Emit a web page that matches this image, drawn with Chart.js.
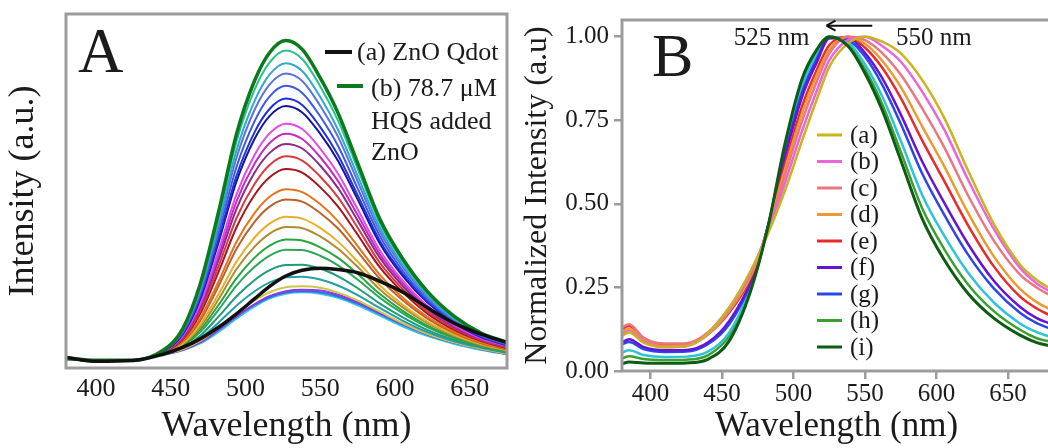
<!DOCTYPE html>
<html>
<head>
<meta charset="utf-8">
<title>ZnO Qdot emission with HQS</title>
<style>
  html, body { margin: 0; padding: 0; background: #fff; overflow: hidden; }
  body { width: 1048px; height: 448px; position: relative; }
  .panel { position: absolute; top: 0; height: 448px; }
  #panelA { left: 0; width: 520px; }
  #panelB { left: 520px; width: 540px; }
</style>
<script src="https://cdn.jsdelivr.net/npm/chart.js"></script>
</head>
<body>
<div class="panel" id="panelA"><canvas id="chartA" width="520" height="448"></canvas></div>
<div class="panel" id="panelB"><canvas id="chartB" width="540" height="448"></canvas></div>
<script>
const SERIF = "'Liberation Serif', 'Times New Roman', serif";
const INK = '#1b1b1b';
const FRAME = '#9c9c9c';

const xTicks = [400, 450, 500, 550, 600, 650];
const yTicksB = [0, 0.25, 0.5, 0.75, 1.0];

// Panel A: raw emission spectra (a.u.)
const wavelengthA = [380, 400, 425, 445, 458, 470, 482, 494, 506, 516, 527, 538, 550, 562, 575, 590, 605, 622, 640, 658, 675];
const qdotA = [3.0, 1.9, 2.1, 3.9, 5.8, 8.3, 11.5, 15.3, 19.5, 23.0, 26.0, 27.6, 28.2, 27.8, 26.9, 24.5, 21.5, 17.0, 12.6, 9.5, 7.2];
const hqs01 = [2.8, 2.2, 2.2, 5.0, 11.0, 24.0, 44.0, 66.0, 81.0, 89.0, 92.5, 90.0, 82.0, 72.0, 58.0, 42.0, 31.0, 21.5, 14.5, 9.8, 7.3];
const hqs02 = [2.8, 2.2, 2.2, 5.0, 10.8, 23.3, 42.7, 63.9, 78.5, 86.2, 89.7, 87.3, 79.6, 69.9, 56.4, 40.9, 30.3, 21.0, 14.2, 9.6, 7.2];
const hqs03 = [2.7, 2.1, 2.2, 4.9, 10.5, 22.5, 41.0, 61.4, 75.3, 82.8, 86.1, 83.9, 76.6, 67.3, 54.4, 39.6, 29.3, 20.4, 13.8, 9.4, 7.0];
const hqs04 = [2.7, 2.1, 2.2, 4.8, 10.3, 21.8, 39.7, 59.3, 72.8, 80.0, 83.2, 81.1, 74.1, 65.3, 52.8, 38.5, 28.6, 19.9, 13.5, 9.2, 6.9];
const hqs05 = [2.7, 2.1, 2.2, 4.8, 10.0, 21.0, 38.0, 56.7, 69.6, 76.6, 79.7, 77.7, 71.1, 62.7, 50.8, 37.2, 27.6, 19.3, 13.2, 9.0, 6.7];
const hqs06 = [2.7, 2.1, 2.2, 4.7, 9.7, 20.2, 36.4, 54.2, 66.5, 73.1, 76.1, 74.3, 68.1, 60.1, 48.9, 35.9, 26.7, 18.7, 12.8, 8.8, 6.5];
const hqs07 = [2.7, 2.1, 2.2, 4.7, 9.5, 19.7, 35.4, 52.6, 64.6, 71.1, 74.0, 72.2, 66.2, 58.5, 47.7, 35.1, 26.1, 18.4, 12.6, 8.7, 6.4];
const hqs08 = [2.7, 2.1, 2.2, 4.6, 9.1, 18.5, 33.0, 49.0, 60.1, 66.2, 69.0, 67.5, 62.0, 54.9, 44.9, 33.2, 24.8, 17.5, 12.1, 8.4, 6.2];
const hqs09 = [2.7, 2.1, 2.2, 4.6, 8.9, 17.9, 31.7, 47.0, 57.6, 63.5, 66.2, 64.7, 59.6, 52.8, 43.3, 32.1, 24.1, 17.0, 11.8, 8.2, 6.1];
const hqs10 = [2.7, 2.1, 2.2, 4.5, 8.6, 17.2, 30.4, 44.9, 55.1, 60.7, 63.3, 62.0, 57.2, 50.8, 41.7, 31.1, 23.3, 16.5, 11.5, 8.0, 6.0];
const hqs11 = [2.7, 2.1, 2.2, 4.5, 8.3, 16.4, 28.7, 42.3, 51.9, 57.3, 59.8, 58.6, 54.1, 48.2, 39.7, 29.7, 22.4, 15.9, 11.1, 7.8, 5.8];
const hqs12 = [2.6, 2.0, 2.2, 4.4, 8.0, 15.5, 27.1, 39.7, 48.8, 53.8, 56.2, 55.2, 51.1, 45.6, 37.7, 28.4, 21.5, 15.3, 10.7, 7.6, 5.6];
const hqs13 = [2.6, 2.0, 2.2, 4.3, 7.6, 14.2, 24.4, 35.6, 43.7, 48.3, 50.5, 49.7, 46.3, 41.4, 34.5, 26.3, 20.0, 14.4, 10.1, 7.2, 5.4];
const hqs14 = [2.6, 2.0, 2.2, 4.2, 7.4, 13.5, 23.1, 33.6, 41.2, 45.5, 47.6, 47.0, 43.8, 39.4, 32.9, 25.2, 19.2, 13.9, 9.8, 7.0, 5.2];
const hqs15 = [2.6, 2.0, 2.2, 4.2, 6.9, 12.4, 20.8, 30.0, 36.8, 40.7, 42.7, 42.2, 39.6, 35.7, 30.1, 23.3, 17.9, 13.0, 9.3, 6.7, 5.0];
const hqs16 = [2.6, 2.0, 2.2, 4.1, 6.7, 11.7, 19.4, 27.9, 34.2, 37.9, 39.8, 39.5, 37.2, 33.7, 28.6, 22.2, 17.2, 12.6, 9.0, 6.5, 4.9];
const hqs17 = [2.6, 2.0, 2.2, 4.1, 6.4, 10.9, 17.8, 25.3, 31.1, 34.5, 36.3, 36.0, 34.1, 31.1, 26.6, 20.9, 16.2, 11.9, 8.7, 6.3, 4.7];
const hqs18 = [2.6, 2.0, 2.2, 4.0, 6.2, 10.2, 16.4, 23.3, 28.5, 31.7, 33.4, 33.3, 31.7, 29.0, 25.0, 19.8, 15.5, 11.5, 8.4, 6.2, 4.6];
const hqs19 = [2.5, 2.0, 2.2, 3.9, 5.8, 9.2, 14.5, 20.2, 24.8, 27.6, 29.1, 29.2, 28.1, 25.9, 22.6, 18.2, 14.4, 10.7, 7.9, 5.9, 4.4];
const hqs20 = [2.5, 2.0, 2.2, 3.9, 5.6, 8.4, 12.8, 17.6, 21.6, 24.1, 25.6, 25.8, 25.0, 23.3, 20.6, 16.9, 13.4, 10.1, 7.5, 5.7, 4.2];
const hqs21 = [2.5, 2.0, 2.2, 3.8, 5.3, 7.7, 11.4, 15.4, 19.0, 21.4, 22.8, 23.1, 22.7, 21.3, 19.1, 15.9, 12.7, 9.6, 7.2, 5.4, 4.0];
const hqs22 = [2.5, 2.0, 2.2, 3.8, 5.1, 7.3, 10.8, 14.6, 18.0, 20.3, 21.7, 22.1, 21.9, 20.7, 18.6, 15.6, 12.5, 9.5, 7.1, 5.3, 3.9];
const hqs23 = [2.5, 2.0, 2.2, 3.8, 5.2, 7.4, 10.8, 14.5, 17.8, 20.0, 21.3, 21.7, 21.4, 20.2, 18.2, 15.3, 12.3, 9.4, 7.1, 5.4, 4.0];
const hqs24 = [2.5, 2.0, 2.2, 3.7, 5.0, 7.0, 10.2, 13.9, 17.3, 19.6, 21.0, 21.4, 21.0, 19.8, 17.7, 14.8, 11.8, 9.0, 6.8, 5.1, 3.8];
const hqsSeries = [hqs01, hqs02, hqs03, hqs04, hqs05, hqs06, hqs07, hqs08, hqs09, hqs10, hqs11, hqs12,
                   hqs13, hqs14, hqs15, hqs16, hqs17, hqs18, hqs19, hqs20, hqs21, hqs22, hqs23, hqs24];
const hqsColors = ['#0b7a1c', '#27c28c', '#2fa8d4', '#5a72e4', '#3d58e6', '#2030de', '#14149c', '#e64ae6',
                   '#c22cc2', '#8c2a88', '#d83a40', '#a6141c', '#e8721c', '#b8622c', '#e6b02a', '#ae8a30',
                   '#24a63c', '#2aa85a', '#1e9c7a', '#22a0a6', '#d2c64a', '#8a3cdc', '#3a6ae6', '#2ec6e8'];

// Panel B: normalized spectra
const wavelengthB = [380, 385, 395, 410, 425, 440, 455, 470, 482, 494, 506, 516, 525, 538, 550, 562, 575, 590, 605, 622, 640, 658, 670, 680];
const normA = [0.105, 0.115, 0.085, 0.071, 0.074, 0.112, 0.19, 0.30, 0.41, 0.54, 0.69, 0.81, 0.91, 0.98, 1.0, 0.985, 0.95, 0.87, 0.76, 0.60, 0.44, 0.32, 0.272, 0.245];
const normB = [0.110, 0.120, 0.088, 0.072, 0.075, 0.110, 0.185, 0.296, 0.416, 0.563, 0.719, 0.836, 0.93, 0.99, 1.0, 0.972, 0.925, 0.835, 0.725, 0.572, 0.425, 0.31, 0.262, 0.236];
const normC = [0.130, 0.140, 0.100, 0.082, 0.083, 0.115, 0.19, 0.290, 0.423, 0.586, 0.749, 0.864, 0.95, 1.0, 0.99, 0.951, 0.886, 0.785, 0.672, 0.525, 0.39, 0.29, 0.25, 0.225];
const normD = [0.118, 0.127, 0.092, 0.075, 0.077, 0.108, 0.18, 0.284, 0.426, 0.604, 0.773, 0.884, 0.962, 1.0, 0.979, 0.928, 0.849, 0.731, 0.615, 0.473, 0.343, 0.247, 0.206, 0.183];
const normE = [0.126, 0.135, 0.096, 0.079, 0.080, 0.110, 0.175, 0.278, 0.428, 0.618, 0.793, 0.899, 0.975, 1.0, 0.967, 0.907, 0.816, 0.689, 0.571, 0.436, 0.313, 0.224, 0.187, 0.165];
const normF = [0.086, 0.095, 0.072, 0.062, 0.063, 0.085, 0.15, 0.268, 0.431, 0.640, 0.821, 0.921, 0.995, 0.998, 0.951, 0.876, 0.767, 0.626, 0.506, 0.380, 0.270, 0.193, 0.158, 0.141];
const normG = [0.080, 0.087, 0.066, 0.057, 0.058, 0.080, 0.14, 0.263, 0.432, 0.650, 0.835, 0.932, 0.996, 0.99, 0.940, 0.856, 0.739, 0.590, 0.470, 0.348, 0.247, 0.175, 0.143, 0.126];
const normCyan = [0.055, 0.062, 0.048, 0.042, 0.043, 0.058, 0.115, 0.253, 0.431, 0.665, 0.854, 0.945, 0.997, 0.984, 0.917, 0.821, 0.688, 0.526, 0.407, 0.294, 0.205, 0.143, 0.116, 0.102];
const normH = [0.038, 0.044, 0.036, 0.033, 0.034, 0.047, 0.105, 0.245, 0.431, 0.673, 0.866, 0.955, 1.0, 0.978, 0.902, 0.798, 0.655, 0.486, 0.367, 0.259, 0.179, 0.124, 0.098, 0.087];
const normI = [0.022, 0.027, 0.024, 0.023, 0.024, 0.035, 0.09, 0.24, 0.43, 0.68, 0.875, 0.96, 1.0, 0.972, 0.89, 0.78, 0.63, 0.455, 0.335, 0.232, 0.158, 0.108, 0.085, 0.075];
const normLabels = ['(a)', '(b)', '(c)', '(d)', '(e)', '(f)', '(g)', '(h)', '(i)'];
const normSeries = [normA, normB, normC, normD, normE, normF, normG, normH, normI];
const normColors = ['#c8b41c', '#ec64dc', '#ec7680', '#ec9a30', '#e82a2a', '#6414d4', '#2a46ee', '#3aa032', '#0c5c12'];
const cyanColor = '#2ec4d8';

// emission maxima marked on panel B
const peakShort = 525;
const peakLong = 550;

function toPoints(xs, ys) {
  return xs.map((x, k) => ({ x: x, y: ys[k] }));
}

function lineSet(xs, ys, color, width) {
  return {
    data: toPoints(xs, ys),
    borderColor: color,
    borderWidth: width,
    pointRadius: 0,
    fill: false,
    cubicInterpolationMode: 'monotone'
  };
}

const framePlugin = {
  id: 'frame',
  afterDatasetsDraw(chart) {
    const { ctx, chartArea: a } = chart;
    ctx.save();
    ctx.strokeStyle = FRAME;
    ctx.lineWidth = 3;
    ctx.strokeRect(a.left, a.top, a.right - a.left, a.bottom - a.top);
    ctx.restore();
  }
};

function segment(ctx, x0, y0, x1, y1) {
  ctx.beginPath();
  ctx.moveTo(x0, y0);
  ctx.lineTo(x1, y1);
  ctx.stroke();
}

const panelAText = {
  id: 'panelAText',
  afterDraw(chart) {
    const ctx = chart.ctx;
    ctx.save();
    ctx.fillStyle = INK;
    ctx.font = '63px ' + SERIF;
    ctx.textBaseline = 'alphabetic';
    ctx.fillText('A', 78, 72);

    ctx.font = '26px ' + SERIF;
    ctx.textBaseline = 'middle';
    ctx.lineWidth = 4;
    ctx.strokeStyle = '#111';
    segment(ctx, 325, 52, 352, 52);
    ctx.fillText('(a) ZnO Qdot', 357, 53);
    ctx.strokeStyle = hqsColors[0];
    segment(ctx, 337, 86, 363, 86);
    ctx.fillText('(b) 78.7 μM', 371, 89);
    ctx.fillText('HQS added', 371, 122);
    ctx.fillText('ZnO', 371, 153);
    ctx.restore();
  }
};

const panelBText = {
  id: 'panelBText',
  afterDraw(chart) {
    const { ctx, scales: { x, y } } = chart;
    ctx.save();
    ctx.fillStyle = INK;
    ctx.font = '62px ' + SERIF;
    ctx.textBaseline = 'alphabetic';
    ctx.fillText('B', 132, 76);

    // peak shift annotation
    const yPeak = y.getPixelForValue(1.0);
    ctx.font = '25px ' + SERIF;
    ctx.textBaseline = 'middle';
    ctx.textAlign = 'right';
    ctx.fillText(peakShort + ' nm', x.getPixelForValue(peakShort) - 20, yPeak + 2);
    ctx.textAlign = 'left';
    ctx.fillText(peakLong + ' nm', x.getPixelForValue(peakLong) + 31, yPeak + 2);

    const ay = y.getPixelForValue(1.033);
    const ax0 = x.getPixelForValue(555);
    const ax1 = x.getPixelForValue(523);
    ctx.strokeStyle = '#111';
    ctx.lineWidth = 2;
    segment(ctx, ax0, ay, ax1 + 1, ay);
    segment(ctx, ax1, ay, ax1 + 9, ay - 5);
    segment(ctx, ax1, ay, ax1 + 9, ay + 5);

    // legend
    const legendTop = 135;
    const legendStep = 26.5;
    ctx.lineWidth = 3;
    normLabels.forEach((label, k) => {
      const ly = legendTop + k * legendStep;
      ctx.strokeStyle = normColors[k];
      segment(ctx, 297, ly, 322, ly);
      ctx.fillText(label, 330, ly + 1);
    });
    ctx.restore();
  }
};

// ---- panel A ----
const datasetsA = [lineSet(wavelengthA, qdotA, '#111111', 3.5)];
hqsSeries.forEach((ys, k) => {
  datasetsA.push(lineSet(wavelengthA, ys, hqsColors[k], k === 0 ? 3.5 : 2));
});

new Chart(document.getElementById('chartA'), {
  type: 'line',
  data: { datasets: datasetsA },
  options: {
    responsive: false,
    animation: false,
    events: [],
    devicePixelRatio: 1,
    layout: { padding: { left: 0, top: 14, right: 13, bottom: 0 } },
    plugins: { legend: { display: false }, tooltip: { enabled: false } },
    scales: {
      x: {
        type: 'linear',
        min: 380,
        max: 675,
        afterBuildTicks: s => { s.ticks = xTicks.map(v => ({ value: v })); },
        afterFit: s => { s.height = 80; },
        grid: { display: false, drawTicks: false },
        border: { display: false },
        ticks: { font: { family: SERIF, size: 26 }, color: INK, padding: 6, maxRotation: 0, autoSkip: false },
        title: { display: true, text: 'Wavelength (nm)', font: { family: SERIF, size: 36 }, color: INK, padding: { top: 0, bottom: 0 } }
      },
      y: {
        type: 'linear',
        min: 0,
        max: 100,
        afterFit: s => { s.width = 66; },
        grid: { display: false, drawTicks: false },
        border: { display: false },
        ticks: { display: false },
        title: { display: true, text: 'Intensity (a.u.)', font: { family: SERIF, size: 36 }, color: INK, padding: { top: 2, bottom: 0 } }
      }
    }
  },
  plugins: [framePlugin, panelAText]
});

// ---- panel B ----
const datasetsB = [
  lineSet(wavelengthB, normI, normColors[8], 3),
  lineSet(wavelengthB, normA, normColors[0], 2.5),
  lineSet(wavelengthB, normB, normColors[1], 2.5),
  lineSet(wavelengthB, normC, normColors[2], 2.5),
  lineSet(wavelengthB, normD, normColors[3], 2.5),
  lineSet(wavelengthB, normE, normColors[4], 2.5),
  lineSet(wavelengthB, normF, normColors[5], 2.5),
  lineSet(wavelengthB, normG, normColors[6], 2.5),
  lineSet(wavelengthB, normCyan, cyanColor, 2.5),
  lineSet(wavelengthB, normH, normColors[7], 2.5)
];

new Chart(document.getElementById('chartB'), {
  type: 'line',
  data: { datasets: datasetsB },
  options: {
    responsive: false,
    animation: false,
    events: [],
    devicePixelRatio: 1,
    layout: { padding: { left: 0, top: 18, right: 9, bottom: 0 } },
    plugins: { legend: { display: false }, tooltip: { enabled: false } },
    scales: {
      x: {
        type: 'linear',
        min: 380,
        max: 680,
        afterBuildTicks: s => { s.ticks = xTicks.map(v => ({ value: v })); },
        afterFit: s => { s.height = 77; },
        grid: { display: true, drawOnChartArea: false, drawTicks: true, tickLength: 8, color: FRAME, lineWidth: 2.5 },
        border: { display: false },
        ticks: { font: { family: SERIF, size: 25 }, color: INK, padding: 0, maxRotation: 0, autoSkip: false },
        title: { display: true, text: 'Wavelength (nm)', font: { family: SERIF, size: 35 }, color: INK, padding: { top: 0, bottom: 0 } }
      },
      y: {
        type: 'linear',
        min: 0,
        max: 1.05,
        afterBuildTicks: s => { s.ticks = yTicksB.map(v => ({ value: v })); },
        afterFit: s => { s.width = 102; },
        grid: { display: true, drawOnChartArea: false, drawTicks: true, tickLength: 8, color: FRAME, lineWidth: 2.5 },
        border: { display: false },
        ticks: { font: { family: SERIF, size: 25 }, color: INK, padding: 5, callback: v => Number(v).toFixed(2) },
        title: { display: true, text: 'Normalized Intensity (a.u)', font: { family: SERIF, size: 32, lineHeight: 1.1 }, color: INK, padding: { top: 0, bottom: 0 } }
      }
    }
  },
  plugins: [framePlugin, panelBText]
});
</script>
</body>
</html>
